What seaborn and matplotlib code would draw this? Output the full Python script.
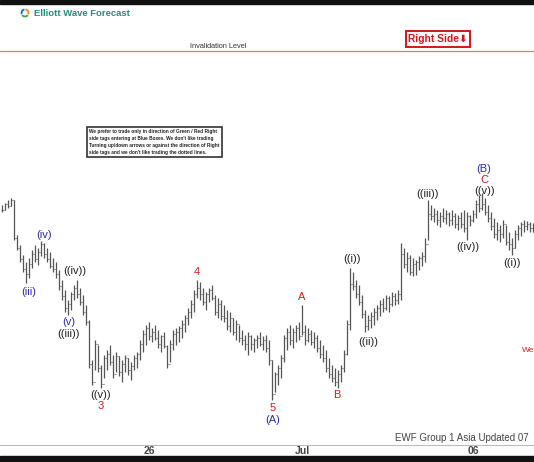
import numpy as np
import pandas as pd
import matplotlib
matplotlib.use("Agg")
import matplotlib.pyplot as plt
from matplotlib.patches import Rectangle
import seaborn as sns

# hourly bars, price in chart units
highs = [239, 241, 244, 246, 244, 209, 199, 189, 182, 186,
         194, 199, 196, 203, 201, 196, 192, 186, 182, 174,
         164, 154, 144, 152, 159, 164, 156, 149, 139, 124,
         84, 104, 99, 79, 89, 94, 99, 89, 92, 88,
         84, 89, 86, 82, 89, 92, 104, 114, 119, 122,
         116, 119, 114, 109, 112, 99, 104, 114, 116, 118,
         124, 129, 136, 144, 154, 164, 162, 156, 152, 156,
         159, 149, 146, 144, 139, 134, 132, 126, 124, 119,
         114, 109, 112, 109, 106, 109, 112, 108, 109, 104,
         84, 72, 79, 89, 109, 116, 119, 116, 119, 122,
         139, 119, 116, 114, 112, 109, 104, 99, 94, 86,
         79, 76, 74, 79, 94, 124, 176, 172, 164, 159,
         149, 134, 129, 132, 136, 139, 144, 146, 149, 148,
         152, 151, 154, 201, 196, 192, 189, 186, 184, 188,
         192, 206, 244, 239, 236, 234, 232, 236, 234, 232,
         234, 231, 229, 232, 234, 232, 229, 234, 244, 249,
         251, 246, 239, 232, 226, 222, 219, 224, 219, 212,
         206, 214, 219, 222, 224, 223, 222, 221]
lows = [232, 234, 236, 238, 204, 194, 182, 172, 161, 166,
        176, 182, 179, 188, 186, 182, 176, 172, 166, 154,
        144, 132, 129, 134, 144, 146, 139, 129, 119, 76,
        59, 74, 72, 56, 66, 74, 79, 66, 72, 68,
        62, 72, 69, 64, 74, 76, 84, 92, 99, 104,
        102, 104, 96, 92, 96, 76, 82, 94, 99, 102,
        106, 112, 119, 126, 132, 146, 144, 139, 134, 142,
        144, 129, 126, 124, 122, 114, 112, 109, 104, 102,
        99, 94, 89, 94, 92, 96, 98, 94, 92, 79,
        44, 52, 59, 66, 82, 94, 99, 96, 102, 104,
        109, 99, 102, 99, 96, 92, 86, 82, 72, 66,
        62, 58, 56, 62, 72, 89, 114, 154, 146, 139,
        126, 112, 114, 116, 119, 124, 128, 132, 134, 132,
        138, 139, 140, 144, 176, 172, 169, 168, 169, 174,
        178, 182, 204, 224, 222, 219, 217, 222, 220, 218,
        219, 216, 214, 216, 212, 204, 218, 222, 226, 232,
        234, 229, 222, 214, 206, 204, 202, 206, 199, 194,
        189, 196, 204, 208, 212, 214, 212, 212]
closes = [234, 240, 238, 244, 206, 196, 185, 175, 170, 180,
          190, 185, 192, 200, 190, 185, 178, 175, 170, 158,
          148, 136, 140, 150, 156, 150, 142, 132, 122, 80,
          62, 100, 76, 60, 86, 90, 82, 70, 88, 72,
          80, 86, 74, 78, 86, 90, 100, 110, 116, 108,
          112, 106, 100, 108, 98, 80, 100, 110, 112, 116,
          120, 126, 132, 140, 150, 156, 150, 142, 150, 154,
          146, 132, 140, 128, 126, 118, 126, 112, 120, 106,
          104, 100, 108, 100, 104, 106, 100, 104, 96, 84,
          50, 70, 76, 86, 106, 112, 104, 112, 116, 108,
          112, 104, 110, 102, 106, 96, 90, 86, 76, 70,
          66, 62, 70, 76, 90, 120, 160, 158, 150, 142,
          130, 118, 124, 128, 132, 136, 140, 136, 146, 140,
          148, 144, 150, 190, 180, 186, 172, 180, 182, 186,
          188, 200, 230, 228, 230, 224, 228, 226, 230, 224,
          228, 220, 226, 220, 216, 228, 224, 230, 240, 236,
          240, 232, 226, 218, 210, 214, 210, 220, 202, 200,
          196, 210, 216, 220, 218, 220, 216, 218]

tick_bars = [49, 100, 157]
tick_labels = ["26", "Jul", "06"]

invalidation = 393

# wave labels: text, bar, price, colour
BLUE, RED, BLACK = "#2b2fa0", "#cc2020", "#222222"
waves = [
    ("(iii)", 9, 152, BLUE), ("(iv)", 14, 209, BLUE), ("(v)", 22.3, 122, BLUE),
    ("((iii))", 22.3, 110, BLACK), ("((iv))", 24.3, 173, BLACK),
    ("((v))", 33, 49, BLACK), ("3", 33, 38, RED), ("4", 65, 172, RED),
    ("5", 90.3, 36, RED), ("(A)", 90.3, 24, BLUE), ("A", 100, 147, RED),
    ("B", 111.7, 49, RED), ("((i))", 116.7, 185, BLACK),
    ("((ii))", 122, 102, BLACK), ("((iii))", 141.7, 250, BLACK),
    ("((iv))", 155.3, 197, BLACK), ("((v))", 160.7, 253, BLACK),
    ("C", 160.7, 264, RED), ("(B)", 160.7, 275, BLUE), ("((i))", 170, 181, BLACK),
]

df = pd.DataFrame({"high": highs, "low": lows, "close": closes})
df["bar"] = np.arange(len(df))
df["open"] = df["close"].shift(1).fillna(df["close"])

sns.set_theme(style="white")
plt.rcParams["font.family"] = ["Liberation Sans", "DejaVu Sans"]

W, H = 534, 462
fig = plt.figure(figsize=(W / 100, H / 100), dpi=100)
ax = fig.add_axes([0, 17 / H, 1, 441 / H])

bar_col = "#555555"
ax.vlines(df["bar"], df["low"], df["high"], color=bar_col, lw=0.9)
ax.hlines(df["close"], df["bar"], df["bar"] + 0.45, color=bar_col, lw=0.8)
ax.hlines(df["open"], df["bar"] - 0.45, df["bar"], color=bar_col, lw=0.8)

ax.axhline(invalidation, color="#e07878", lw=0.9)

for txt, b, p, c in waves:
    ax.text(b, p, txt, color=c, fontsize=8, ha="center", va="center")

ax.set_xlim(-2 / 3, 532 / 3)
ax.set_ylim(-1, 440)
ax.set_yticks([])
ax.set_xticks(tick_bars)
ax.set_xticklabels(tick_labels, fontsize=7.5, fontweight="bold", color="#444444")
ax.tick_params(axis="x", direction="in", length=2, color="#aaaaaa", pad=0.5)
sns.despine(ax=ax, left=True, right=True, top=True)
ax.spines["bottom"].set_color("#bbbbbb")
ax.spines["bottom"].set_linewidth(0.8)


def fx(x):
    return x / W


def fy(y):
    return 1 - y / H


# header / footer frames
fig.patches.append(Rectangle((0, fy(4)), 1, 4 / H, transform=fig.transFigure,
                             color="#111111", zorder=5))
fig.patches.append(Rectangle((0, 0), 1, 6 / H, transform=fig.transFigure,
                             color="#111111", zorder=5))

# logo
lax = fig.add_axes([fx(19), fy(19), 12 / W, 12 / H])
lax.pie([1, 1, 1], colors=["#1f6fb5", "#3aa64a", "#f08a24"], startangle=90,
        wedgeprops=dict(width=0.55, edgecolor="white", linewidth=0.5))
lax.set_aspect("equal")
fig.text(fx(34), fy(13), "Elliott Wave Forecast", fontsize=6.8, fontweight="bold",
         color="#2a8c7c", ha="left", va="center")

fig.text(fx(218), fy(46), "Invalidation Level", fontsize=5.3, color="#333333",
         ha="center", va="center")

fig.text(fx(438), fy(39), "Right Side\u2b07", fontsize=7.4, fontweight="bold",
         color="#d01818", ha="center", va="center",
         bbox=dict(boxstyle="square,pad=0.25", fc="white", ec="#d01818", lw=1.4))

note = ("We prefer to trade only in direction of Green / Red Right\n"
        "side tags entering at Blue Boxes. We don't like trading\n"
        "Turning up/down arrows or against the direction of Right\n"
        "side tags and we don't like trading the dotted lines.")
fig.text(fx(89), fy(142), note, fontsize=3.4, fontweight="bold", color="#222222",
         ha="left", va="center", linespacing=1.5,
         bbox=dict(boxstyle="square,pad=0.45", fc="white", ec="#333333", lw=1.2))

fig.text(fx(395), fy(438), "EWF Group 1 Asia Updated 07", fontsize=7,
         color="#444444", ha="left", va="center")
fig.text(fx(522), fy(350), "We", fontsize=6, color="#cc2020", ha="left", va="center")

fig.savefig("out.png", dpi=100)
